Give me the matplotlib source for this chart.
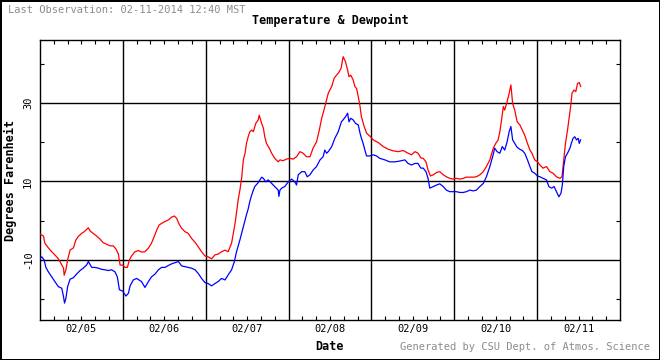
import matplotlib
matplotlib.use("Agg")
import matplotlib.pyplot as plt
from matplotlib.ticker import FixedLocator
import numpy as np

# ---- data (hours since 02/05 00:00 MST, degrees F) ----
temp_hours = [0.0, 1.0, 1.4, 2.4, 3.4, 4.3, 5.3, 6.1, 6.8, 7.0, 7.5, 8.0, 8.7, 9.7, 10.4, 11.1,
              12.1, 12.8, 14.0, 14.5, 15.4, 16.4, 17.4, 18.3, 19.3, 20.3, 21.2, 22.0, 22.7, 23.2,
              23.9, 24.6, 25.3, 25.9, 26.5, 27.5, 28.5, 29.4, 30.4, 31.4, 32.3, 33.1, 33.8, 34.5,
              35.2, 36.2, 37.2, 38.1, 38.9, 39.6, 40.2, 41.0, 42.0, 42.9, 43.9, 44.9, 45.8, 46.8,
              47.8, 48.7, 49.7, 50.7, 51.6, 52.6, 53.6, 54.5, 55.5, 56.0, 56.5, 56.9, 57.4, 57.9,
              58.4, 58.9, 59.4, 59.8, 60.3, 60.8, 61.3, 61.8, 62.5, 63.2, 63.5, 64.2, 64.7, 65.1,
              65.6, 66.4, 67.1, 68.0, 69.0, 69.5, 70.4, 71.4, 72.4, 73.3, 74.3, 75.3, 76.2, 77.2,
              78.2, 79.1, 80.1, 80.9, 81.6, 82.5, 83.5, 84.5, 85.2, 85.9, 86.4, 87.2, 87.8, 88.5,
              89.1, 89.5, 90.0, 90.7, 91.2, 91.7, 92.2, 92.7, 93.1, 93.9, 94.6, 95.5, 96.5, 98.0,
              99.4, 100.9, 102.3, 103.8, 105.2, 106.6, 107.6, 108.6, 109.5, 110.3, 111.0, 111.8,
              112.4, 113.1, 113.9, 114.9, 115.8, 116.8, 117.7, 118.7, 119.7, 120.6, 121.6, 122.6,
              123.5, 124.5, 125.5, 126.4, 127.4, 128.4, 129.3, 130.3, 131.3, 132.0, 132.7, 133.2,
              133.7, 134.2, 134.6, 135.3, 135.9, 136.4, 136.9, 137.5, 138.2, 139.0, 139.7, 140.4,
              141.2, 141.9, 142.5, 143.3, 144.1, 144.8, 145.7, 146.7, 147.7, 148.6, 149.6, 150.6,
              151.2, 151.8, 152.2, 152.8, 153.2, 153.7, 154.1, 154.7, 155.2, 155.7, 156.2, 156.6]
temp_f = [-3.4, -3.9, -5.7, -6.9, -7.9, -8.7, -9.7, -10.9, -12.1, -13.9, -12.5, -10.0, -7.5, -6.9,
          -4.9, -4.0, -3.2, -2.8, -1.8, -2.6, -3.2, -3.9, -4.7, -5.6, -6.0, -6.4, -6.4, -7.2, -8.5,
          -11.3, -11.3, -11.9, -11.9, -10.0, -9.0, -7.9, -7.6, -8.0, -7.9, -7.0, -5.7, -4.0, -2.4,
          -1.1, -0.7, -0.2, 0.2, 0.9, 1.2, 0.6, -0.7, -1.9, -2.8, -3.2, -4.5, -5.5, -6.6, -7.9,
          -9.0, -9.2, -9.7, -8.7, -8.5, -7.9, -7.5, -7.9, -5.7, -3.2, -0.7, 1.9, 5.3, 7.8,
          10.8, 15.5, 17.2, 19.7, 21.4, 22.7, 23.1, 22.7, 24.8, 25.7, 26.9, 24.8, 23.6, 21.4,
          19.7, 18.5, 17.2, 15.9, 15.0, 15.5, 15.3, 15.7, 15.9, 15.7, 16.3, 17.6, 17.2, 16.3,
          16.3, 18.5, 20.1, 23.1, 26.1, 29.0, 32.5, 34.2, 36.3, 37.1, 37.6, 38.8, 41.8, 40.5,
          38.4, 36.7, 37.1, 35.9, 34.2, 33.7, 31.6, 29.1, 26.5, 24.0, 22.3, 21.6, 20.6, 19.9,
          18.9, 18.2, 17.8, 17.6, 17.9, 17.2, 16.8, 17.6, 17.2, 16.0, 15.9, 15.0,
          12.9, 11.4, 11.7, 12.3, 12.5, 11.7, 11.2, 10.8, 10.6, 10.8, 10.6, 10.8,
          11.1, 11.1, 11.1, 11.2, 11.7, 12.5, 13.8, 15.5, 18.5, 19.7, 20.6, 22.7,
          25.7, 29.1, 28.2, 30.3, 32.5, 34.6, 29.9, 28.2, 25.2, 24.4, 23.1, 21.8,
          19.7, 18.0, 17.2, 15.5, 15.0, 14.2, 13.4, 13.8, 12.5, 12.1, 11.2, 10.8,
          11.2, 16.3, 19.7, 23.1, 25.7, 29.1, 32.5, 33.3, 32.9, 35.0, 35.2, 34.2]

dew_hours = [0.0, 0.5, 1.2, 1.7, 2.4, 3.4, 4.3, 5.3, 6.3, 6.8, 7.1, 7.5, 8.0, 8.7, 9.7, 10.6,
             11.6, 12.5, 13.5, 14.0, 15.0, 15.9, 16.9, 17.9, 18.8, 19.8, 20.7, 21.7, 22.4, 23.0,
             23.9, 24.9, 25.6, 26.1, 27.0, 28.0, 28.5, 29.4, 30.4, 31.4, 32.3, 33.3, 34.3, 35.2,
             36.2, 37.2, 38.1, 39.1, 40.1, 41.0, 42.0, 43.0, 43.9, 44.9, 45.8, 46.8, 47.8, 48.7,
             49.7, 50.7, 51.6, 52.6, 53.6, 54.5, 55.5, 56.3, 56.9, 57.9, 58.9, 59.8, 60.3, 60.8,
             61.3, 61.8, 62.2, 63.2, 64.2, 64.7, 65.4, 66.1, 67.1, 68.0, 69.0, 69.2, 69.5, 70.0,
             70.9, 71.9, 72.9, 73.8, 74.3, 74.8, 75.8, 76.7, 77.4, 78.2, 79.1, 80.1, 81.1, 82.0,
             82.5, 83.0, 83.5, 84.5, 85.4, 86.4, 87.3, 87.8, 88.5, 89.1, 89.5, 90.0, 90.7, 91.4,
             92.2, 92.7, 93.1, 93.6, 94.1, 94.6, 95.5, 96.5, 97.5, 98.4, 99.9, 101.3, 102.8, 104.2,
             105.7, 106.6, 107.6, 108.6, 109.5, 110.3, 111.0, 111.8, 112.4, 112.9, 113.9, 114.9,
             115.8, 116.8, 117.7, 118.7, 119.7, 120.6, 121.6, 122.6, 123.5, 124.5, 125.5, 126.4,
             127.4, 128.4, 129.3, 130.3, 131.1, 131.7, 132.4, 133.2, 133.9, 134.6, 135.3, 135.9,
             136.4, 136.9, 137.5, 138.2, 139.0, 139.7, 140.4, 141.2, 141.9, 142.5, 143.3, 144.1,
             144.8, 145.7, 146.7, 147.4, 148.2, 148.9, 149.6, 150.3, 150.9, 151.3, 151.7, 152.2,
             152.8, 153.5, 153.9, 154.4, 154.9, 155.4, 155.9, 156.2, 156.6]
dew_f = [-9.6, -9.2, -10.0, -11.9, -13.0, -14.3, -15.5, -16.8, -17.2, -19.3, -21.0, -19.8, -16.8,
         -14.9, -14.5, -13.6, -12.7, -12.1, -11.3, -10.4, -11.9, -11.9, -12.1, -12.4, -12.5, -12.7,
         -12.5, -13.0, -14.3, -17.6, -17.9, -19.2, -18.5, -16.6, -15.1, -14.7, -15.0, -15.5, -17.0,
         -15.5, -14.3, -13.6, -12.5, -11.9, -11.9, -11.4, -11.0, -10.7, -10.4, -11.5, -11.7, -11.9,
         -12.1, -12.5, -13.4, -14.7, -15.8, -16.0, -16.6, -16.0, -15.5, -14.7, -15.1, -13.8, -12.5,
         -10.4, -8.0, -4.9, -1.5, 1.5, 3.0, 5.0, 6.5, 7.8, 8.7, 9.7, 11.1, 10.8, 9.9, 10.4, 9.5,
         8.7, 7.8, 6.2, 7.8, 8.3, 8.7, 9.9, 10.6, 9.9, 9.1, 11.7, 12.5, 12.5, 11.2, 11.7, 12.9,
         13.8, 15.5, 16.3, 18.0, 17.2, 17.6, 18.9, 21.0, 22.7, 25.2, 25.7, 26.5, 27.4, 25.2, 26.1,
         25.7, 24.8, 24.4, 22.3, 21.0, 19.7, 18.0, 16.5, 16.5, 16.8, 16.5, 15.9, 15.5, 15.0, 15.0,
         15.2, 15.5, 14.6, 14.2, 14.6, 14.6, 13.4, 13.4, 12.5, 10.8, 8.3, 8.7, 9.1,
         9.4, 8.7, 7.8, 7.4, 7.4, 7.4, 7.2, 7.2, 7.4, 7.8, 7.6, 7.8,
         8.7, 9.5, 11.2, 13.8, 16.3, 18.5, 17.6, 17.2, 18.9, 18.0, 20.1, 22.7,
         24.0, 20.6, 19.7, 18.7, 18.2, 17.9, 17.2, 15.5, 13.8, 12.5, 12.1, 11.4,
         11.2, 10.8, 10.4, 8.7, 8.3, 8.7, 7.4, 6.1, 7.0, 9.1, 13.8, 16.3,
         17.2, 18.5, 19.7, 21.0, 21.4, 20.6, 21.0, 19.7, 20.6]

day_labels = ['02/05', '02/06', '02/07', '02/08', '02/09', '02/10', '02/11']
y_major = [-10, 10, 30]
y_minor = [-20, 0, 20, 40]

plt.rcParams['axes.unicode_minus'] = False
mono = 'DejaVu Sans Mono'

fig = plt.figure(figsize=(6.6, 3.6), dpi=100)
fig.patch.set_facecolor('white')
fig.patch.set_edgecolor('black')
fig.patch.set_linewidth(2)

W, H = 660.0, 360.0
ax = fig.add_axes([40 / W, (H - 320) / H, 580 / W, 280 / H])

ax.plot(temp_hours, temp_f, color='#ff0000', lw=0.9, zorder=3)
ax.plot(dew_hours, dew_f, color='#0000ff', lw=0.9, zorder=3)

ndays = len(day_labels)
ax.set_xlim(0, 24 * ndays)
ax.set_ylim(-25.3, 46.05)

# day boundaries as gridlines
for d in range(1, ndays):
    ax.axvline(24 * d, color='black', lw=1.0, zorder=2)

noons = [24 * d + 12 for d in range(ndays)]
ax.xaxis.set_major_locator(FixedLocator(noons))
ax.set_xticklabels(day_labels)
ax.xaxis.set_minor_locator(FixedLocator([h for h in range(4, 24 * ndays, 4) if h % 24 not in (0, 12)]))

ax.yaxis.set_major_locator(FixedLocator(y_major))
ax.yaxis.set_minor_locator(FixedLocator(y_minor))
ax.yaxis.grid(True, which='major', color='black', lw=1.0)
ax.set_axisbelow(True)

ax.tick_params(axis='x', which='both', direction='in', top=True, bottom=True,
               length=3, width=0.8, pad=3, labelsize=7.5)
ax.tick_params(axis='y', which='major', length=0, pad=5, labelsize=7.5)
ax.tick_params(axis='y', which='minor', direction='in', left=True, right=True,
               length=3, width=0.8)
for lab in ax.get_yticklabels():
    lab.set_rotation(90)
    lab.set_va('center')
for lab in ax.get_xticklabels() + ax.get_yticklabels():
    lab.set_family(mono)

for s in ax.spines.values():
    s.set_linewidth(1.0)
    s.set_color('black')

ax.set_xlabel('Date', fontfamily=mono, fontweight='bold', fontsize=8.5, labelpad=4)
ax.set_ylabel('Degrees Farenheit', fontfamily=mono, fontweight='bold', fontsize=8.5)
ax.yaxis.set_label_coords((17 - 40) / 580.0, 0.5)

fig.text(330 / W, 1 - 20 / H, 'Temperature & Dewpoint', ha='center', va='center',
         fontfamily=mono, fontweight='bold', fontsize=8.5)
fig.text(8 / W, 1 - 10 / H, 'Last Observation: 02-11-2014 12:40 MST', ha='left', va='center',
         fontfamily=mono, fontsize=7.5, color='#8c8c8c')
fig.text(650 / W, 1 - 347 / H, 'Generated by CSU Dept. of Atmos. Science', ha='right',
         va='center', fontfamily=mono, fontsize=7.5, color='#8c8c8c')

fig.savefig('out.png', dpi=100, facecolor='white', edgecolor='black')
